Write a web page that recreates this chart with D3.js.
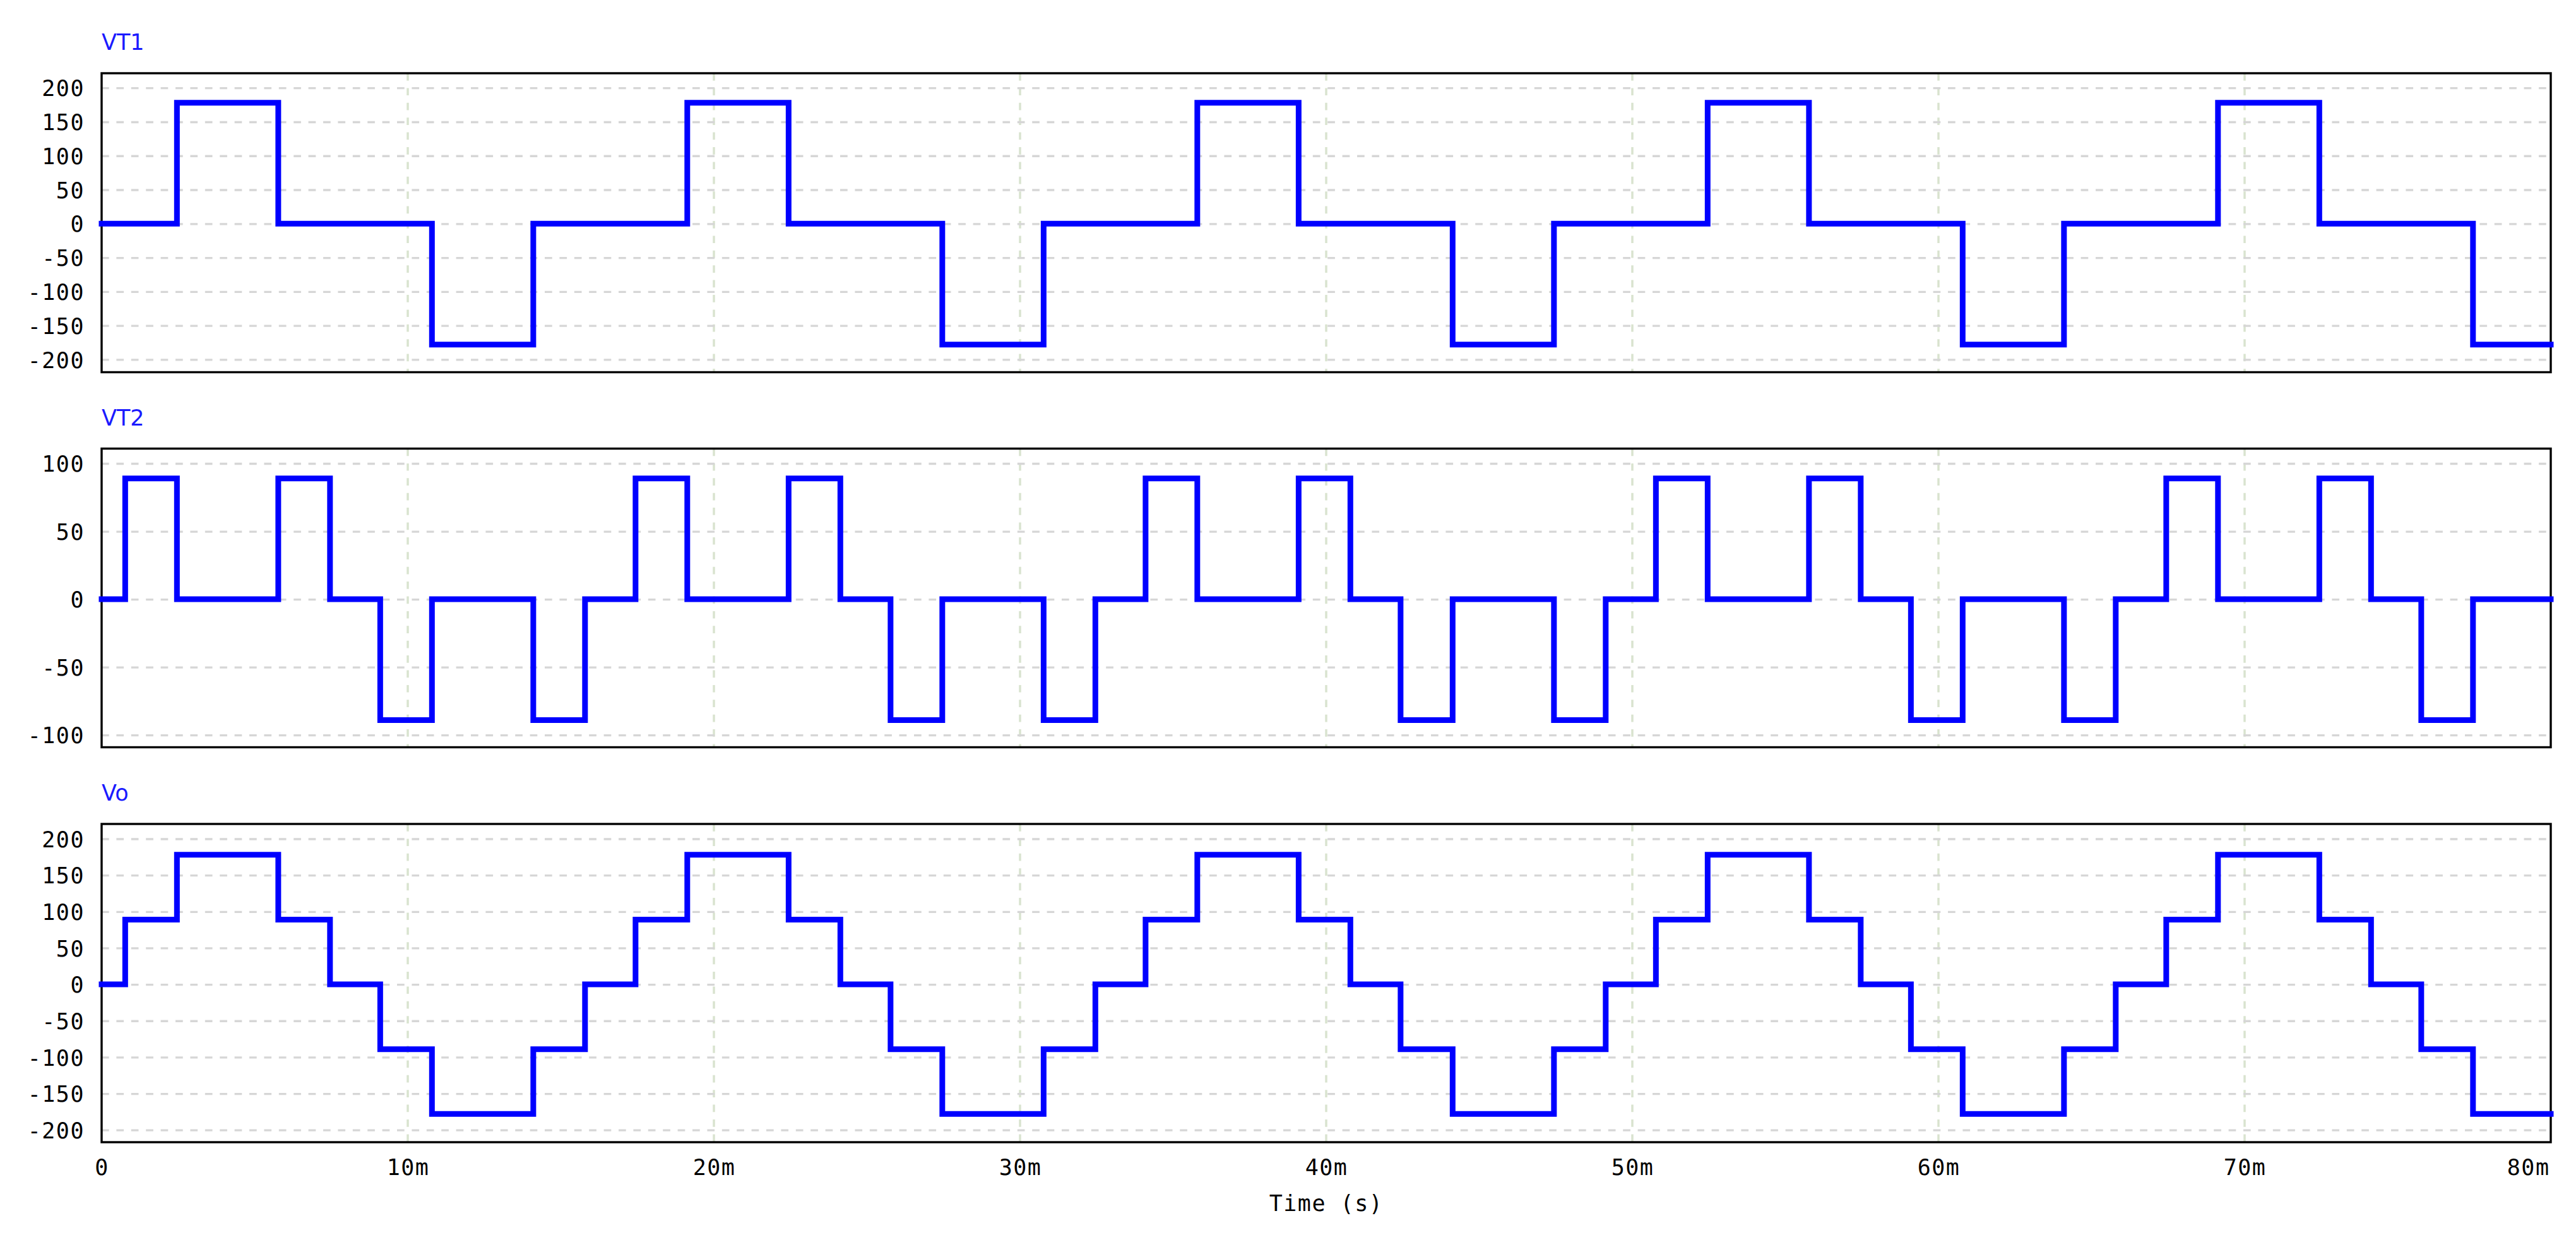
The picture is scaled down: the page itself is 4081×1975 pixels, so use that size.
<!DOCTYPE html>
<html><head><meta charset="utf-8">
<script src="https://cdn.jsdelivr.net/npm/d3@7"></script>
<style>html,body{margin:0;padding:0;background:#fff;overflow:hidden;}</style>
</head><body>
<svg id="chart" width="4081" height="1975"></svg>
<script>
// ---- data (time in ms, step-after values) ----
const timeMs = [0, 0.77, 2.46, 5.77, 7.46, 9.10, 10.79, 14.10,
  15.79, 17.44, 19.13, 22.44, 24.13, 25.77, 27.46, 30.77,
  32.46, 34.10, 35.79, 39.10, 40.79, 42.43, 44.13, 47.44,
  49.13, 50.77, 52.46, 55.77, 57.46, 59.10, 60.79, 64.10,
  65.79, 67.44, 69.13, 72.44, 74.13, 75.77, 77.46, 80];
const vt1 = [0, 0, 178, 0, 0, 0, -178, 0,
  0, 0, 178, 0, 0, 0, -178, 0,
  0, 0, 178, 0, 0, 0, -178, 0,
  0, 0, 178, 0, 0, 0, -178, 0,
  0, 0, 178, 0, 0, 0, -178, -178];
const vt2 = [0, 89, 0, 89, 0, -89, 0, -89,
  0, 89, 0, 89, 0, -89, 0, -89,
  0, 89, 0, 89, 0, -89, 0, -89,
  0, 89, 0, 89, 0, -89, 0, -89,
  0, 89, 0, 89, 0, -89, 0, 0];
const vo = [0, 89, 178, 89, 0, -89, -178, -89,
  0, 89, 178, 89, 0, -89, -178, -89,
  0, 89, 178, 89, 0, -89, -178, -89,
  0, 89, 178, 89, 0, -89, -178, -89,
  0, 89, 178, 89, 0, -89, -178, -178];
const seriesNames = ["VT1", "VT2", "Vo"];
const xTicks = [0, 10, 20, 30, 40, 50, 60, 70, 80];
const xTickLabels = ["0", "10m", "20m", "30m", "40m", "50m", "60m", "70m", "80m"];
const yTicksWide = [200, 150, 100, 50, 0, -50, -100, -150, -200];
const yTicksNarrow = [100, 50, 0, -50, -100];
const xTitle = "Time (s)";

// ---- layout ----
const W = 4081, H = 1975;
const left = 161, right = 4041;
const svg = d3.select("#chart");
svg.append("rect").attr("width", W).attr("height", H).attr("fill", "#fff");

const x = d3.scaleLinear().domain([0, 80]).range([left, right]);

const panels = [
  {name: seriesNames[0], values: vt1, ticks: yTicksWide, dom: [-200, 200], frameTop: 116, frameBot: 589.5, gTop: 139.2, gBot: 569.4},
  {name: seriesNames[1], values: vt2, ticks: yTicksNarrow, dom: [-100, 100], frameTop: 710.5, frameBot: 1183.5, gTop: 734, gBot: 1164.2},
  {name: seriesNames[2], values: vo, ticks: yTicksWide, dom: [-200, 200], frameTop: 1305, frameBot: 1809, gTop: 1328.5, gBot: 1789.7}
];

const monoFont = "'DejaVu Sans Mono', 'Liberation Mono', monospace";
const sansFont = "'DejaVu Sans', Verdana, sans-serif";

panels.forEach((p, pi) => {
  const y = d3.scaleLinear().domain(p.dom).range([p.gBot, p.gTop]);
  const g = svg.append("g");

  // vertical grid (dashed, faint green-grey)
  g.append("g").selectAll("line").data(xTicks.filter(t => t > 0 && t < 80)).join("line")
    .attr("x1", d => x(d)).attr("x2", d => x(d))
    .attr("y1", p.frameTop).attr("y2", p.frameBot)
    .attr("stroke", "#d9e3cf").attr("stroke-width", 3.5)
    .attr("stroke-dasharray", "11.7,11.7");

  // horizontal grid + y tick labels via axis
  const yAxis = d3.axisLeft(y).tickValues(p.ticks).tickSize(-(right - left)).tickPadding(27)
    .tickFormat(d => String(d));
  const ya = g.append("g").attr("transform", `translate(${left},0)`).call(yAxis);
  ya.select(".domain").remove();
  ya.selectAll(".tick line").attr("stroke", "#d6d6d6").attr("stroke-width", 3.3)
    .attr("stroke-dasharray", "11.7,11.7");
  ya.selectAll(".tick text").attr("font-family", monoFont).attr("font-size", 35)
    .attr("letter-spacing", 1.5).attr("fill", "#000").attr("dy", "0.36em");

  // frame
  g.append("rect").attr("x", left).attr("y", p.frameTop)
    .attr("width", right - left).attr("height", p.frameBot - p.frameTop)
    .attr("fill", "none").attr("stroke", "#000").attr("stroke-width", 3.4);

  // series label
  g.append("text").attr("x", left).attr("y", p.frameTop - 37)
    .attr("font-family", sansFont).attr("font-size", 35).attr("fill", "#1a1aff")
    .text(p.name);

  // waveform
  const line = d3.line().x((d, i) => x(timeMs[i])).y(d => y(d)).curve(d3.curveStepAfter);
  g.append("path").datum(p.values).attr("d", line)
    .attr("fill", "none").attr("stroke", "#0000ff").attr("stroke-width", 9)
    .attr("stroke-linejoin", "miter").attr("stroke-linecap", "square");

  if (pi === panels.length - 1) {
    const xAxis = d3.axisBottom(x).tickValues(xTicks).tickSize(0).tickPadding(0)
      .tickFormat((d, i) => xTickLabels[i]);
    const xa = g.append("g").attr("transform", `translate(0,${p.frameBot})`).call(xAxis);
    xa.select(".domain").remove();
    xa.selectAll(".tick text").attr("font-family", monoFont).attr("font-size", 35)
      .attr("letter-spacing", 1.5).attr("fill", "#000").attr("dy", 0).attr("y", 52);
    // last label is right-aligned to the frame edge
    xa.selectAll(".tick").filter(d => d === 80).select("text")
      .attr("text-anchor", "end").attr("x", -2);
    g.append("text").attr("x", (left + right) / 2).attr("y", 1918)
      .attr("text-anchor", "middle").attr("font-family", monoFont).attr("font-size", 35)
      .attr("letter-spacing", 1.5).attr("fill", "#000").text(xTitle);
  }
});
</script>
</body></html>
